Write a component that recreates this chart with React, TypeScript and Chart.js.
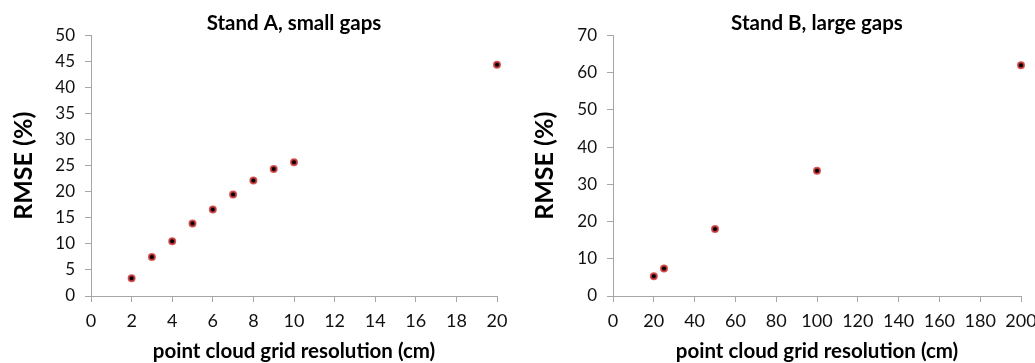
import React, { useEffect, useRef } from "react";
import { Chart, registerables } from "chart.js";

Chart.register(...registerables);

// ---- Data ----
const standAResolution = [2, 3, 4, 5, 6, 7, 8, 9, 10, 20];
const standARmse = [3.4, 7.5, 10.5, 13.9, 16.6, 19.5, 22.2, 24.4, 25.7, 44.4];

const standBResolution = [20, 25, 50, 100, 200];
const standBRmse = [5.3, 7.4, 18.0, 33.7, 62.0];

const standATitle = "Stand A, small gaps";
const standBTitle = "Stand B, large gaps";
const xAxisTitle = "point cloud grid resolution (cm)";
const yAxisTitle = "RMSE (%)";

const standAXRange = [0, 20, 2];
const standAYRange = [0, 50, 5];
const standBXRange = [0, 200, 20];
const standBYRange = [0, 70, 10];

const FONT = "Lato, 'Open Sans', sans-serif";
const AXIS_GRAY = "#a6a6a6";

type PanelCfg = {
  xs: number[];
  ys: number[];
  title: string;
  xRange: number[];
  yRange: number[];
  width: number;
  yAxisWidth: number;
  rightPad: number;
  yTitlePad: number;
};

function Panel({ cfg }: { cfg: PanelCfg }) {
  const ref = useRef<HTMLCanvasElement | null>(null);
  useEffect(() => {
    if (!ref.current) return;
    const data = cfg.xs.map((x, i) => ({ x, y: cfg.ys[i] }));
    const chart = new Chart(ref.current, {
      type: "scatter",
      data: {
        datasets: [
          {
            data,
            pointRadius: 3,
            pointHoverRadius: 3,
            pointBackgroundColor: "#000000",
            pointBorderColor: "rgba(210,60,60,0.85)",
            pointBorderWidth: 2,
            clip: false as any,
          },
        ],
      },
      options: {
        responsive: false,
        animation: false,
        devicePixelRatio: 1,
        layout: { padding: { left: 0, right: cfg.rightPad, top: 0, bottom: 0 } },
        plugins: {
          legend: { display: false },
          tooltip: { enabled: false },
          title: {
            display: true,
            text: cfg.title,
            fullSize: false,
            color: "#000000",
            font: { family: FONT, size: 20.5, weight: "bold" },
            padding: { top: 11, bottom: 0 },
          },
        },
        scales: {
          x: {
            type: "linear",
            min: cfg.xRange[0],
            max: cfg.xRange[1],
            afterFit: (s: any) => {
              s.height = 67;
            },
            ticks: {
              stepSize: cfg.xRange[2],
              color: "#111111",
              font: { family: FONT, size: 18 },
              padding: 8,
              maxRotation: 0,
              autoSkip: false,
            },
            grid: {
              display: true,
              drawOnChartArea: false,
              drawTicks: true,
              tickLength: 6,
              color: AXIS_GRAY,
            },
            border: { display: true, color: AXIS_GRAY, width: 1 },
            title: {
              display: true,
              text: xAxisTitle,
              color: "#000000",
              font: { family: FONT, size: 20.5, weight: "bold" },
              padding: { top: 0, bottom: -1 },
            },
          },
          y: {
            type: "linear",
            min: cfg.yRange[0],
            max: cfg.yRange[1],
            afterFit: (s: any) => {
              s.width = cfg.yAxisWidth;
            },
            ticks: {
              stepSize: cfg.yRange[2],
              color: "#111111",
              font: { family: FONT, size: 17 },
              padding: 10,
            },
            grid: {
              display: true,
              drawOnChartArea: false,
              drawTicks: true,
              tickLength: 6,
              color: AXIS_GRAY,
            },
            border: { display: true, color: AXIS_GRAY, width: 1 },
            title: {
              display: true,
              text: yAxisTitle,
              color: "#000000",
              font: { family: FONT, size: 25, weight: "bold" },
              padding: { top: cfg.yTitlePad, bottom: 0 },
            },
          },
        },
      },
    });
    return () => chart.destroy();
  }, [cfg]);
  return <canvas ref={ref} width={cfg.width} height={363} style={{ display: "block" }} />;
}

const panelA: PanelCfg = {
  xs: standAResolution,
  ys: standARmse,
  title: standATitle,
  xRange: standAXRange,
  yRange: standAYRange,
  width: 517,
  yAxisWidth: 91,
  rightPad: 20,
  yTitlePad: 8.5,
};

const panelB: PanelCfg = {
  xs: standBResolution,
  ys: standBRmse,
  title: standBTitle,
  xRange: standBXRange,
  yRange: standBYRange,
  width: 530,
  yAxisWidth: 96,
  rightPad: 26,
  yTitlePad: 13,
};

export default function App() {
  return (
    <div
      style={{
        position: "absolute",
        left: 0,
        top: 0,
        width: 1035,
        height: 363,
        overflow: "hidden",
        background: "#ffffff",
      }}
    >
      <div style={{ position: "absolute", left: 0, top: 0 }}>
        <Panel cfg={panelA} />
      </div>
      <div style={{ position: "absolute", left: 517, top: 0 }}>
        <Panel cfg={panelB} />
      </div>
    </div>
  );
}
